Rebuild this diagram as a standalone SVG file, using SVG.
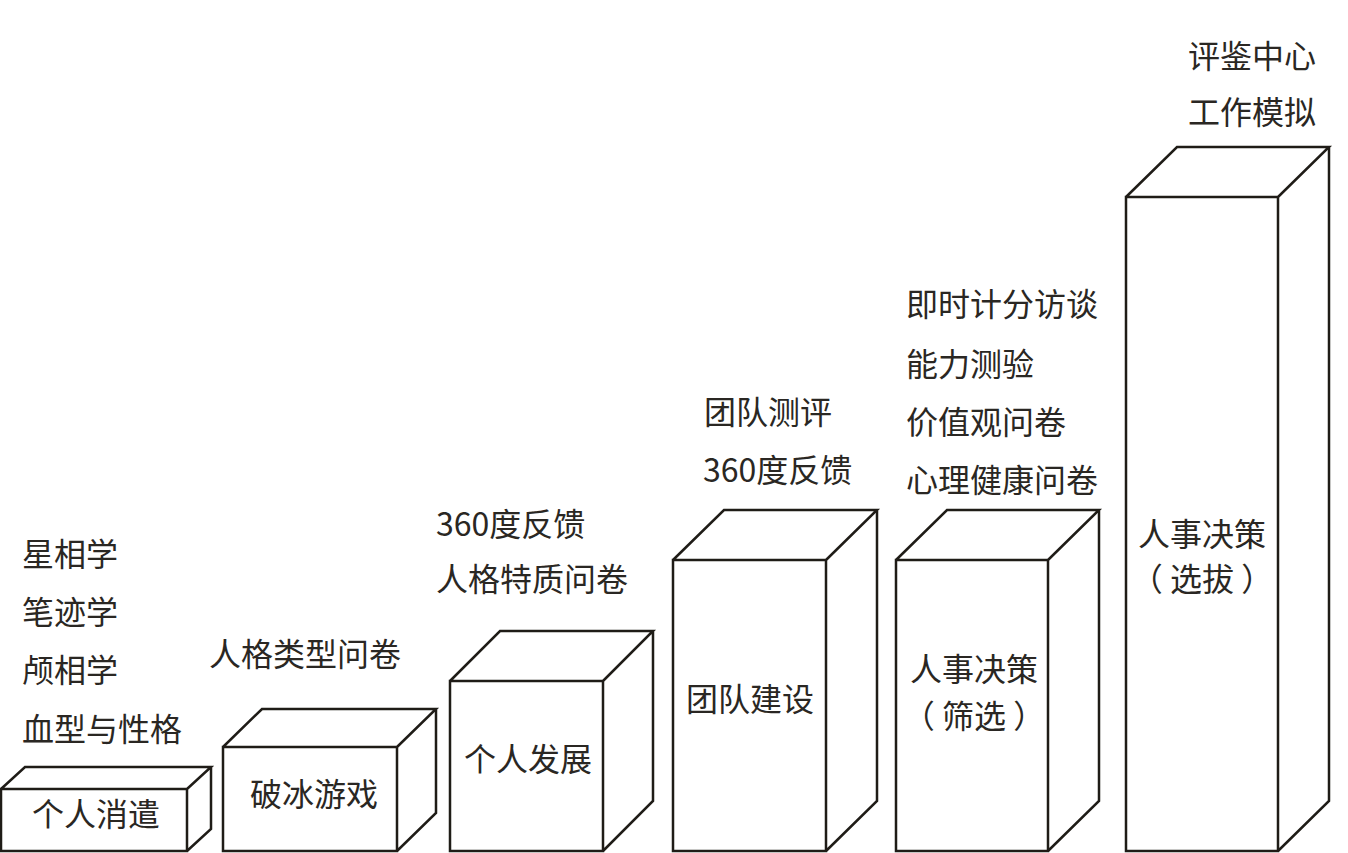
<svg xmlns="http://www.w3.org/2000/svg" width="1348" height="853" viewBox="0 0 1348 853">
<style>
.box path{fill:none;stroke:#1f1c17;stroke-width:2.5;stroke-linejoin:miter}
text{font-family:"Noto Sans CJK SC","Liberation Sans",sans-serif;font-size:32px;fill:#2a2723;white-space:pre}
.m{text-anchor:middle}
</style>
<rect width="1348" height="853" fill="#ffffff"/>
<g id="labels-left">
<text x="22" y="566">星相学</text>
<text x="22" y="624">笔迹学</text>
<text x="22" y="682">颅相学</text>
<text x="22" y="741">血型与性格</text>
</g>
<g id="node1" class="box">
<path d="M1,789 H187 V851 H1 Z M1,789 L25,767 H211 L187,789 M211,767 V829 L187,851"/>
<text class="m" x="96" y="826">个人消遣</text>
</g>
<g id="node2" class="box">
<path d="M223,747 H397 V851 H223 Z M223,747 L262,709 H436 L397,747 M436,709 V813 L397,851"/>
<text x="209" y="666">人格类型问卷</text>
<text class="m" x="314" y="806">破冰游戏</text>
</g>
<g id="node3" class="box">
<path d="M450,681 H603 V851 H450 Z M450,681 L500,631 H653 L603,681 M653,631 V801 L603,851"/>
<text x="436" y="536">360度反馈</text>
<text x="436" y="591">人格特质问卷</text>
<text class="m" x="528" y="771">个人发展</text>
</g>
<g id="node4" class="box">
<path d="M673,560 H826 V851 H673 Z M673,560 L724,510 H877 L826,560 M877,510 V801 L826,851"/>
<text x="704" y="424">团队测评</text>
<text x="703" y="482">360度反馈</text>
<text class="m" x="750" y="711">团队建设</text>
</g>
<g id="node5" class="box">
<path d="M896,560 H1048 V851 H896 Z M896,560 L947,510 H1099 L1048,560 M1099,510 V801 L1048,851"/>
<text x="906" y="316">即时计分访谈</text>
<text x="906" y="376">能力测验</text>
<text x="906" y="434">价值观问卷</text>
<text x="906" y="492">心理健康问卷</text>
<text class="m" x="974" y="681">人事决策</text>
<text class="m" x="974" y="728">（ 筛选 ）</text>
</g>
<g id="node6" class="box">
<path d="M1126,197 H1278 V851 H1126 Z M1126,197 L1177,147 H1329 L1278,197 M1329,147 V801 L1278,851"/>
<text x="1188" y="68">评鉴中心</text>
<text x="1188" y="124">工作模拟</text>
<text class="m" x="1202" y="546">人事决策</text>
<text class="m" x="1202" y="591">（ 选拔 ）</text>
</g>
<g id="connectors"></g>
</svg>
